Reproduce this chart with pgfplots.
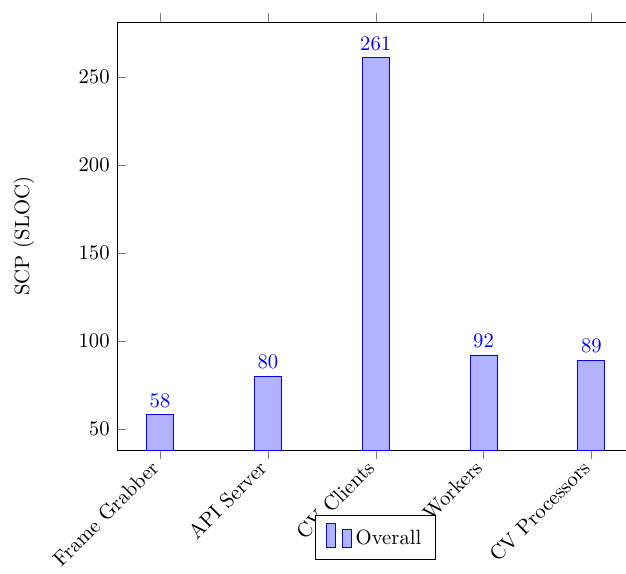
\documentclass[border=0pt]{standalone}
\usepackage{pgfplots}
\pgfplotsset{compat=1.18}
\usetikzlibrary{calc}
\begin{document}
\begin{tikzpicture}
\begin{axis}[
  ybar,
  width=250pt, height=207pt,
  scale only axis,
  bar width=13pt,
  enlargelimits=0.1,
  xmin=0, xmax=4,
  xtick=data,
  xticklabels={Frame Grabber, API Server, CV Clients, Workers, CV Processors},
  x tick label style={rotate=45, anchor=east},
  xtick align=outside,
  ylabel={SCP (SLOC)},
  ylabel style={yshift=14.5pt},
  nodes near coords,
  every node near coord/.append style={blue},
  legend style={at={(0.5,-0.15)}, anchor=north, inner xsep=5pt, inner ysep=3.7pt},
  legend image code/.code={
    \draw[#1] (0pt,-4pt) rectangle (4.3pt,7.6pt);
    \draw[#1] (7.7pt,-4pt) rectangle (12pt,4.7pt);
  },
]
\addplot[draw=blue, fill=blue!30] coordinates {(0,58) (1,80) (2,261) (3,92) (4,89)};
\legend{Overall}
\end{axis}
\pgfresetboundingbox
\useasboundingbox ($(current axis.south west)+(-56.5pt,-59.4pt)$) rectangle ($(current axis.north west)+(245.9pt,10.6pt)$);
\end{tikzpicture}
\end{document}
